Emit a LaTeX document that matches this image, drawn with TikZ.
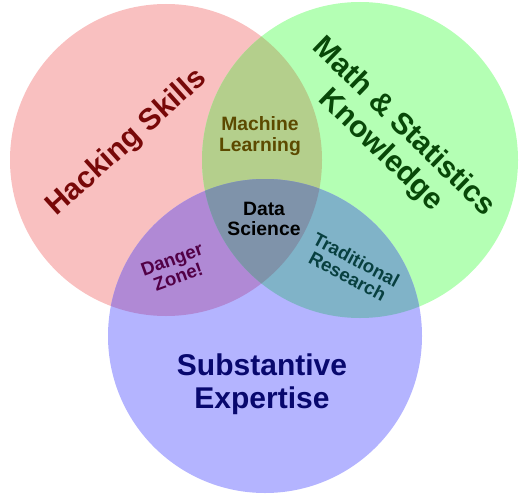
\documentclass[tikz,border=0pt]{standalone}
\usepackage{fontspec}
\setmainfont{Liberation Sans}
\definecolor{hackfill}{HTML}{F9C0C0}
\definecolor{mathfill}{HTML}{B4FFB4}
\definecolor{substfill}{HTML}{B4B4FF}
\definecolor{mlfill}{HTML}{B4CF8C}
\definecolor{dangerfill}{HTML}{B089D5}
\definecolor{tradfill}{HTML}{80B3C8}
\definecolor{dsfill}{HTML}{7F93AA}
\definecolor{hacktext}{HTML}{780808}
\definecolor{mathtext}{HTML}{084808}
\definecolor{substtext}{HTML}{08086E}
\definecolor{mltext}{HTML}{5C4A00}
\definecolor{dangertext}{HTML}{520046}
\definecolor{tradtext}{HTML}{084040}
\tikzset{
  bigtext/.style={align=center, font=\bfseries\fontsize{22.5}{24.5}\selectfont},
  smalltext/.style={align=center, font=\bfseries\fontsize{14.5}{15.5}\selectfont},
  tinytext/.style={align=center, font=\bfseries\fontsize{14}{14}\selectfont}
}
\begin{document}
\begin{tikzpicture}[x=0.75pt, y=-0.75pt]
    \useasboundingbox (0,0) rectangle (527,503);
    \coordinate (hack) at (166,160);
    \coordinate (math) at (360,160);
    \coordinate (subst) at (265,336);

    % the three circles
    \fill[hackfill] (hack) circle[radius=117pt];
    \fill[mathfill] (math) circle[radius=118.5pt];
    \fill[substfill] (subst) circle[radius=117.75pt];

    % pairwise overlaps
    \begin{scope}
        \clip (hack) circle[radius=117pt];
        \fill[mlfill] (math) circle[radius=118.5pt];
        \fill[dangerfill] (subst) circle[radius=117.75pt];
    \end{scope}
    \begin{scope}
        \clip (math) circle[radius=118.5pt];
        \fill[tradfill] (subst) circle[radius=117.75pt];
    \end{scope}
    % centre
    \begin{scope}
        \clip (hack) circle[radius=117pt];
        \clip (math) circle[radius=118.5pt];
        \fill[dsfill] (subst) circle[radius=117.75pt];
    \end{scope}

    \node[bigtext, text=hacktext, rotate=42] (hacking) at (127,143) {Hacking Skills};
    \node[bigtext, text=mathtext, rotate=-44] (mathstat) at (392,139) {Math \& Statistics\\Knowledge};
    \node[bigtext, text=substtext] (expertise) at (262,384) {Substantive\\Expertise};
    \node[smalltext, text=mltext] (ml) at (260,136) {Machine\\Learning};
    \node[smalltext, text=black] (ds) at (264,219) {Data\\Science};
    \node[tinytext, text=dangertext, rotate=20] (danger) at (175,268) {Danger\\Zone!};
    \node[tinytext, text=tradtext, rotate=-28] (trad) at (352,268) {Traditional\\Research};
\end{tikzpicture}
\end{document}
